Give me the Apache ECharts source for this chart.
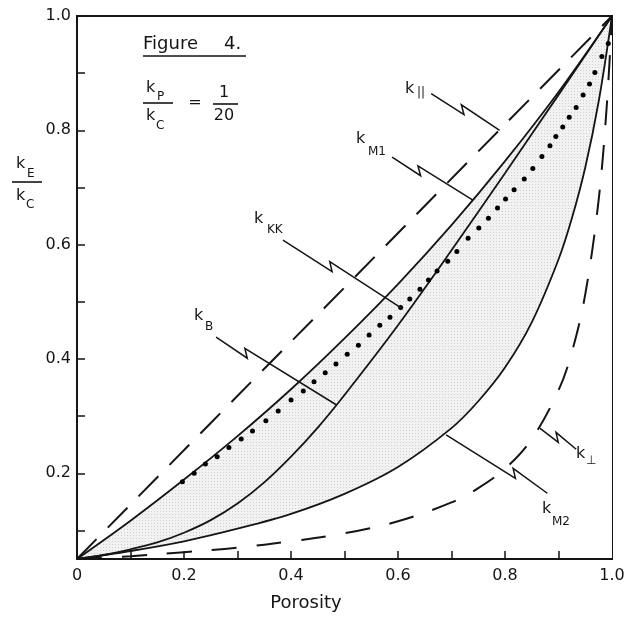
<!DOCTYPE html>
<html>
<head>
<meta charset="utf-8">
<script src="https://cdn.jsdelivr.net/npm/echarts@6/dist/echarts.min.js"></script>
<style>
  html, body { margin: 0; padding: 0; background: #fff; }
  #chart { width: 630px; height: 619px; }
</style>
</head>
<body>
<div id="chart"></div>
<script>
// Thermal conductivity ratio vs porosity (kP/kC = 1/20)
var xTickValues = [0.1, 0.2, 0.3, 0.4, 0.5, 0.6, 0.7, 0.8, 0.9];
var xLabelValues = [0, 0.2, 0.4, 0.6, 0.8, 1.0];
var yTickValues = [0.1, 0.2, 0.3, 0.4, 0.5, 0.6, 0.7, 0.8, 0.9, 1.0];
var yLabelValues = [0.2, 0.4, 0.6, 0.8, 1.0];

// k|| (dashed, straight)
var kParX = [0, 0.25, 0.5, 0.75, 1.0];
var kParY = [0.05, 0.288, 0.525, 0.763, 1.0];

// kM1 (upper solid)
var kM1X = [0, 0.1, 0.2, 0.3, 0.4, 0.5, 0.6, 0.7, 0.8, 0.9, 1.0];
var kM1Y = [0.05, 0.117, 0.189, 0.265, 0.347, 0.436, 0.531, 0.634, 0.746, 0.867, 1.0];

// kB (middle solid)
var kBX = [0, 0.05, 0.1, 0.15, 0.2, 0.25, 0.3, 0.35, 0.4, 0.45, 0.5, 0.6, 0.7, 0.8, 0.9, 1.0];
var kBY = [0.05, 0.057, 0.067, 0.079, 0.096, 0.118, 0.147, 0.184, 0.229, 0.280, 0.337, 0.459, 0.590, 0.725, 0.862, 1.0];

// kM2 (lower solid)
var kM2X = [0, 0.1, 0.2, 0.3, 0.4, 0.5, 0.6, 0.7, 0.75, 0.8, 0.85, 0.9, 0.925, 0.95, 0.975, 1.0];
var kM2Y = [0.05, 0.064, 0.081, 0.103, 0.129, 0.164, 0.211, 0.279, 0.326, 0.385, 0.464, 0.574, 0.646, 0.735, 0.850, 1.0];

// k-perp (dashed, lowest)
var kPerpX = [0, 0.1, 0.2, 0.3, 0.4, 0.5, 0.6, 0.7, 0.75, 0.8, 0.85, 0.9, 0.925, 0.95, 0.975, 0.99, 1.0];
var kPerpY = [0.05, 0.055, 0.062, 0.070, 0.081, 0.095, 0.116, 0.149, 0.174, 0.208, 0.260, 0.345, 0.412, 0.513, 0.678, 0.840, 1.0];

// kKK (dotted)
var kKKX = [0.197, 0.219, 0.240, 0.262, 0.284, 0.307, 0.328, 0.353, 0.376, 0.400, 0.423, 0.443, 0.464, 0.484,
  0.505, 0.526, 0.546, 0.566, 0.585, 0.605, 0.622, 0.641, 0.657, 0.673, 0.693, 0.710, 0.731, 0.751, 0.769,
  0.786, 0.801, 0.817, 0.836, 0.852, 0.869, 0.884, 0.895, 0.908, 0.920, 0.933, 0.946, 0.958, 0.968, 0.981, 0.993];
var kKKY = [0.185, 0.200, 0.216, 0.229, 0.245, 0.260, 0.274, 0.292, 0.309, 0.328, 0.344, 0.360, 0.376, 0.391,
  0.408, 0.424, 0.442, 0.459, 0.473, 0.490, 0.505, 0.522, 0.538, 0.554, 0.571, 0.588, 0.611, 0.629, 0.646,
  0.664, 0.680, 0.696, 0.715, 0.733, 0.754, 0.773, 0.789, 0.806, 0.823, 0.840, 0.862, 0.881, 0.901, 0.929, 0.952];

var INK = '#151515';
var FONT = 'DejaVu Sans';
var SMOOTH = 0.35;

function pairs(xs, ys) {
  return xs.map(function (x, i) { return [x, ys[i]]; });
}

function stipple() {
  var c = document.createElement('canvas');
  c.width = 3; c.height = 3;
  var g = c.getContext('2d');
  g.fillStyle = '#f2f2f2';
  g.fillRect(0, 0, 3, 3);
  g.fillStyle = '#d0d0d0';
  g.fillRect(1, 1, 1, 1);
  return c;
}

function curve(name, xs, ys, dash) {
  return {
    name: name,
    type: 'line',
    data: pairs(xs, ys),
    smooth: SMOOTH,
    showSymbol: false,
    silent: true,
    lineStyle: { color: INK, width: dash ? 2 : 1.8, type: dash || 'solid' },
    z: 5
  };
}

var chart = echarts.init(document.getElementById('chart'), null, { renderer: 'canvas' });

chart.setOption({
  animation: false,
  backgroundColor: '#fff',
  grid: {
    left: 77, right: 18, top: 16, bottom: 60,
    show: true, borderColor: INK, borderWidth: 2, backgroundColor: 'transparent'
  },
  xAxis: {
    type: 'value', min: 0, max: 1, z: 10,
    axisLine: { lineStyle: { color: INK, width: 2 } },
    axisTick: { inside: true, length: 8, lineStyle: { color: INK, width: 1.5 }, customValues: xTickValues },
    axisLabel: {
      customValues: xLabelValues, margin: 9, color: INK, fontFamily: FONT, fontSize: 16,
      formatter: function (v) { return v === 0 ? '0' : v.toFixed(1); }
    },
    splitLine: { show: false }
  },
  yAxis: {
    type: 'value', min: 0.05, max: 1, z: 10,
    axisLine: { show: true, lineStyle: { color: INK, width: 2 } },
    axisTick: { show: true, inside: true, length: 8, lineStyle: { color: INK, width: 1.5 }, customValues: yTickValues },
    axisLabel: {
      customValues: yLabelValues, margin: 6, color: INK, fontFamily: FONT, fontSize: 16,
      formatter: function (v) { return v.toFixed(1); }
    },
    splitLine: { show: false }
  },
  series: [
    {
      name: 'band top', type: 'line', data: pairs(kM1X, kM1Y), smooth: SMOOTH,
      showSymbol: false, silent: true, lineStyle: { width: 0 },
      areaStyle: { color: { image: stipple(), repeat: 'repeat' }, opacity: 1, origin: 'start' }, z: 1
    },
    {
      name: 'band bottom', type: 'line', data: pairs(kM2X, kM2Y), smooth: SMOOTH,
      showSymbol: false, silent: true, lineStyle: { width: 0 },
      areaStyle: { color: '#fff', opacity: 1, origin: 'start' }, z: 1
    },
    curve('k||', kParX, kParY, [28, 16]),
    curve('kM1', kM1X, kM1Y),
    curve('kB', kBX, kBY),
    curve('kM2', kM2X, kM2Y),
    curve('kperp', kPerpX, kPerpY, [25, 20]),
    {
      name: 'kKK', type: 'scatter', data: pairs(kKKX, kKKY), symbol: 'circle', symbolSize: 5,
      silent: true, itemStyle: { color: '#000', opacity: 1 }, z: 6
    }
  ]
});

function px(p) {
  return chart.convertToPixel({ seriesIndex: 0 }, p);
}

function text(x, y, s, size, align) {
  return {
    type: 'text', x: x, y: y, z: 20,
    style: { text: s, fill: INK, font: size + 'px ' + FONT, align: align || 'left', verticalAlign: 'top' }
  };
}

function rule(x1, y1, x2, y2) {
  return { type: 'line', z: 20, shape: { x1: x1, y1: y1, x2: x2, y2: y2 }, style: { stroke: INK, lineWidth: 1.6 } };
}

function leader(a, b, t) {
  var s = px(a), e = px(b);
  var dx = e[0] - s[0], dy = e[1] - s[1];
  var len = Math.sqrt(dx * dx + dy * dy);
  var ux = dx / len, uy = dy / len;
  var nx = uy, ny = -ux;
  var mx = s[0] + dx * t, my = s[1] + dy * t;
  var p1 = [mx - nx * 3, my - ny * 3];
  var p2 = [mx - ux * 7 + nx * 4.5, my - uy * 7 + ny * 4.5];
  return {
    type: 'polyline', z: 20, shape: { points: [s, p1, p2, e] },
    style: { stroke: INK, lineWidth: 1.5, fill: null }
  };
}

function kLabel(x, y, sub, sx, sy) {
  return [text(x, y, 'k', 16), text(sx, sy, sub, 12)];
}

var g = [];
// title and ratio
g.push(text(143, 35, 'Figure', 18), text(224, 35, '4.', 18), rule(143, 56, 246, 56));
g = g.concat(kLabel(146, 80, 'P', 157, 91));
g.push(rule(143, 103, 173, 103));
g = g.concat(kLabel(146, 108, 'C', 156, 120));
g.push(text(195, 95, '=', 16, 'center'), text(224, 85, '1', 16, 'center'), rule(213, 104, 238, 104), text(224, 108, '20', 16, 'center'));
// y axis name
g = g.concat(kLabel(16, 156, 'E', 27, 168));
g.push(rule(12, 182, 42, 182));
g = g.concat(kLabel(16, 188, 'C', 26, 199));
// x axis name
g.push(text(306, 594, 'Porosity', 18, 'center'));
// curve labels
g = g.concat(kLabel(405, 81, '||', 417, 87));
g = g.concat(kLabel(356, 131, 'M1', 368, 146));
g = g.concat(kLabel(254, 211, 'KK', 267, 224));
g = g.concat(kLabel(194, 308, 'B', 205, 321));
g = g.concat(kLabel(542, 501, 'M2', 552, 516));
g = g.concat(kLabel(576, 446, '\u22a5', 586, 455));
// leaders
g.push(leader([0.662, 0.864], [0.79, 0.80], 0.5));
g.push(leader([0.589, 0.753], [0.740, 0.678], 0.37));
g.push(leader([0.385, 0.608], [0.605, 0.490], 0.43));
g.push(leader([0.260, 0.438], [0.486, 0.319], 0.27));
g.push(leader([0.690, 0.267], [0.879, 0.165], 0.7));
g.push(leader([0.865, 0.279], [0.933, 0.242], 0.55));

chart.setOption({ graphic: g });

window.addEventListener('resize', function () {
  chart.resize();
});
</script>
</body>
</html>
